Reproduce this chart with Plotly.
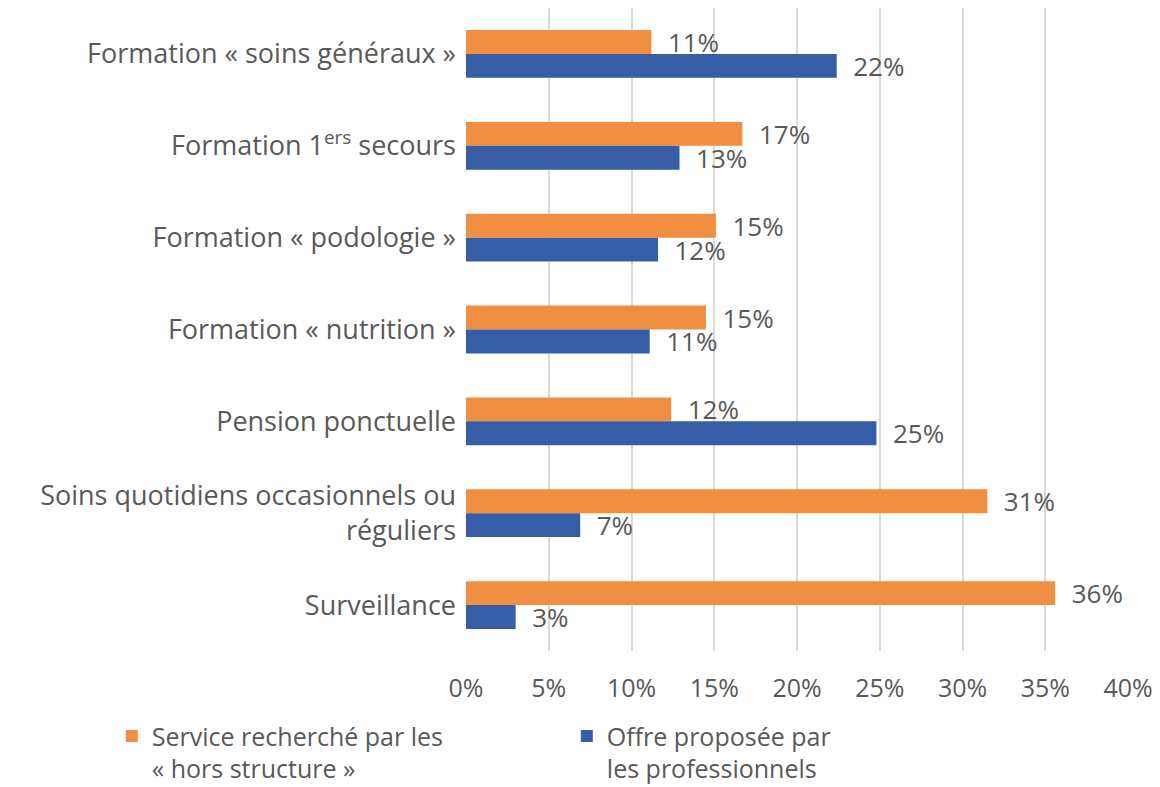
import plotly.graph_objects as go

categories = [
    "Formation « soins généraux »",
    "Formation 1<sup>ers</sup> secours",
    "Formation « podologie »",
    "Formation « nutrition »",
    "Pension ponctuelle",
    "Soins quotidiens occasionnels ou<br>réguliers",
    "Surveillance",
]
service_values = [11.2, 16.7, 15.1, 14.5, 12.4, 31.5, 35.6]
service_labels = ["11%", "17%", "15%", "15%", "12%", "31%", "36%"]
offre_values = [22.4, 12.9, 11.6, 11.1, 24.8, 6.9, 3.0]
offre_labels = ["22%", "13%", "12%", "11%", "25%", "7%", "3%"]
x_ticks = [0, 5, 10, 15, 20, 25, 30, 35, 40]
x_tick_labels = ["0%", "5%", "10%", "15%", "20%", "25%", "30%", "35%", "40%"]

ORANGE = "#F08F41"
BLUE = "#365DA6"
TEXT = "#595959"
FONT = "Open Sans"

fig = go.Figure()
fig.add_trace(go.Bar(
    y=categories, x=service_values, orientation="h",
    name="Service recherché par les<br>« hors structure »",
    marker=dict(color=ORANGE, line=dict(width=0)),
    text=service_labels, texttemplate="\u00a0\u00a0%{text}",
    textposition="outside", constraintext="none",
    textfont=dict(size=26, color=TEXT, family=FONT), cliponaxis=False,
))
fig.add_trace(go.Bar(
    y=categories, x=offre_values, orientation="h",
    name="Offre proposée par<br>les professionnels",
    marker=dict(color=BLUE, line=dict(width=0)),
    text=offre_labels, texttemplate="\u00a0\u00a0%{text}",
    textposition="outside", constraintext="none",
    textfont=dict(size=26, color=TEXT, family=FONT), cliponaxis=False,
))

fig.update_layout(
    width=1152, height=779,
    barmode="group", bargap=0.48, bargroupgap=0,
    plot_bgcolor="white", paper_bgcolor="white",
    font=dict(family=FONT, size=25, color=TEXT),
    margin=dict(l=458, r=32, t=0, b=136, autoexpand=False),
    xaxis=dict(
        range=[0, 40], tickvals=x_ticks, ticktext=x_tick_labels,
        showgrid=True, gridcolor="#D9D9D9", gridwidth=1.5,
        zeroline=False, showline=False, ticks="", ticklabelstandoff=20,
        tickfont=dict(size=25, color=TEXT, family=FONT),
    ),
    yaxis=dict(
        autorange="reversed", showgrid=False, showline=False, ticks="",
        ticklabelstandoff=9,
        tickfont=dict(size=27, color=TEXT, family=FONT),
    ),
    legend=dict(
        orientation="h", x=-0.535, xanchor="left", y=-0.097, yanchor="top",
        font=dict(size=25, color=TEXT, family=FONT), valign="top",
        traceorder="normal", entrywidth=410, entrywidthmode="pixels",
        itemsizing="constant",
    ),
)

fig.write_html("out.html")
